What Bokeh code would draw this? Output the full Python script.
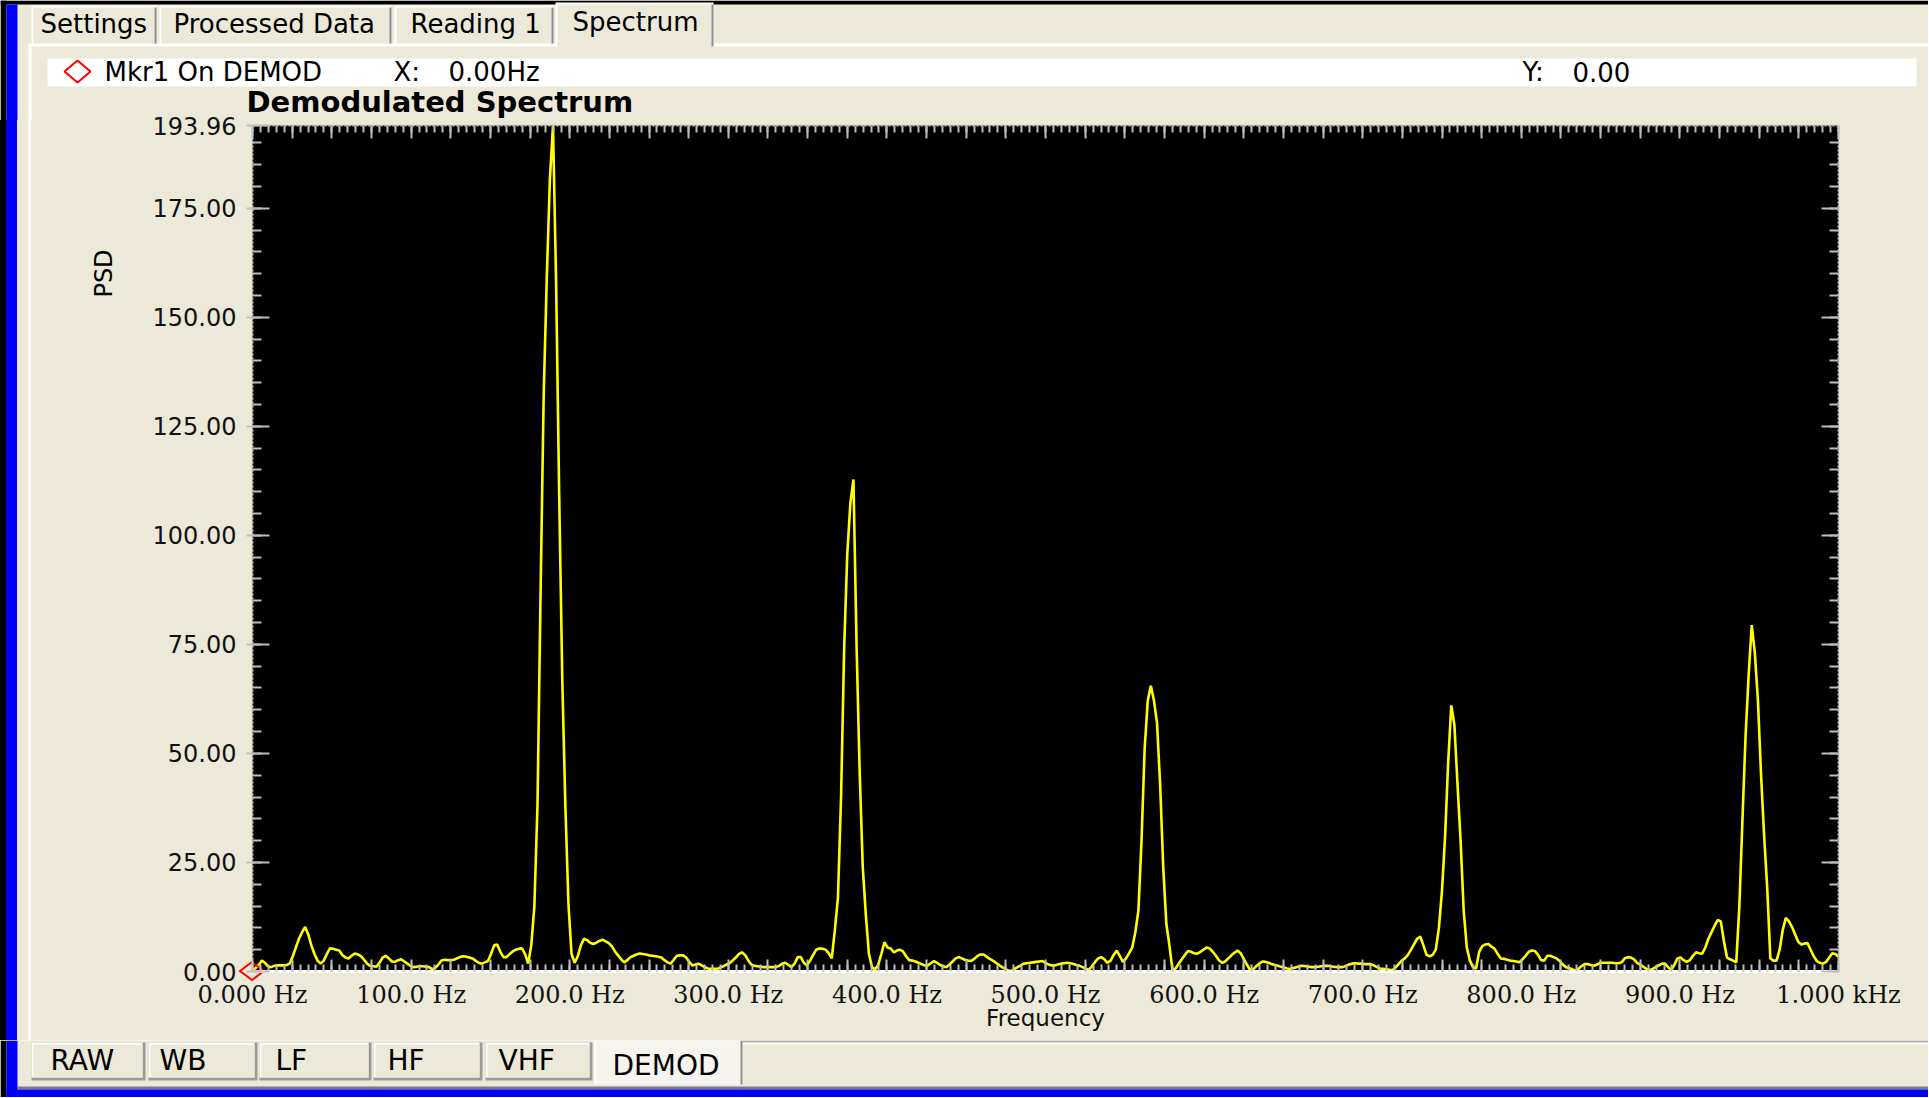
from bokeh.plotting import figure
from bokeh.layouts import column, row
from bokeh.core.properties import value
from bokeh.models import (Range1d, FixedTicker, LinearAxis, NumeralTickFormatter,
                          CustomJSTickFormatter)
from bokeh.embed import file_html
from bokeh.resources import INLINE

# ---------------- data ----------------
FREQ_STEP_HZ = 1000.0 / 512.0          # spectrum bin width
psd_values = [
    0.3, 0.8, 1.5, 2.5, 2.0, 1.2, 1.0, 1.3, 1.4, 1.4,
    1.4, 1.5, 1.8, 3.5, 5.5, 7.5, 9.0, 10.2, 8.5, 6.0,
    4.0, 2.5, 1.8, 2.5, 4.0, 5.3, 5.2, 5.0, 4.8, 3.8,
    3.2, 3.0, 3.6, 4.1, 3.9, 3.5, 2.7, 1.8, 1.3, 1.2,
    1.1, 2.0, 3.2, 3.6, 3.0, 2.3, 2.2, 2.6, 2.8, 2.3,
    1.8, 1.3, 1.0, 1.1, 1.2, 1.2, 1.1, 1.0, 0.5, 0.8,
    1.6, 2.5, 2.7, 2.6, 2.6, 2.7, 3.0, 3.3, 3.5, 3.4,
    3.2, 3.0, 2.5, 2.0, 1.8, 2.1, 2.4, 4.0, 6.0, 6.2,
    4.5, 3.3, 3.3, 4.0, 4.6, 5.0, 5.2, 5.3, 4.0, 1.8,
    6.0, 15.0, 38.0, 87.0, 132.0, 159.0, 181.5, 193.96, 158.5, 109.5,
    67.0, 38.0, 15.4, 4.0, 2.0, 3.5, 6.0, 7.5, 7.2, 6.6,
    6.3, 6.6, 7.0, 7.3, 6.9, 6.5, 5.8, 4.6, 3.7, 2.8,
    2.1, 2.6, 3.3, 3.6, 3.9, 4.1, 4.0, 3.9, 3.7, 3.6,
    3.5, 3.4, 3.2, 2.6, 2.1, 1.8, 2.7, 3.6, 3.7, 3.7,
    3.2, 2.2, 1.4, 1.6, 1.8, 1.4, 1.0, 0.7, 0.6, 0.6,
    0.6, 0.9, 1.2, 1.6, 1.9, 2.5, 3.2, 4.0, 4.4, 3.8,
    2.6, 1.6, 1.3, 1.2, 1.1, 1.0, 1.0, 1.0, 1.0, 1.0,
    1.3, 1.8, 2.0, 1.5, 1.0, 1.8, 3.3, 3.3, 2.0, 1.4,
    2.5, 3.8, 5.0, 5.3, 5.2, 5.0, 4.2, 3.0, 9.5, 17.0,
    40.0, 74.0, 95.6, 107.3, 112.8, 75.0, 46.0, 24.0, 13.0, 4.0,
    1.0, 0.5, 1.5, 4.0, 6.7, 5.5, 5.3, 4.4, 4.8, 5.0,
    4.6, 3.5, 2.6, 2.5, 2.3, 2.0, 1.7, 1.4, 1.4, 1.9,
    2.4, 2.0, 1.5, 1.2, 1.0, 1.6, 2.3, 3.0, 3.3, 3.0,
    2.7, 2.5, 2.4, 2.9, 3.5, 3.9, 3.9, 3.4, 2.9, 2.5,
    2.0, 1.5, 1.0, 0.6, 0.2, 0.1, 0.6, 1.0, 1.4, 1.8,
    1.9, 2.0, 2.1, 2.2, 2.3, 2.4, 2.0, 1.6, 1.4, 1.4,
    1.6, 1.8, 1.9, 2.0, 1.9, 1.7, 1.5, 1.3, 1.0, 0.6,
    0.4, 1.2, 2.2, 3.0, 3.3, 2.8, 2.0, 2.5, 3.8, 4.8,
    3.5, 2.2, 3.0, 4.2, 5.5, 9.0, 14.0, 30.0, 51.0, 62.0,
    65.5, 62.2, 57.0, 43.0, 24.0, 11.0, 6.0, 0.3, 0.7, 1.8,
    2.8, 3.8, 4.7, 4.5, 4.2, 4.1, 4.5, 5.0, 5.5, 5.3,
    4.5, 3.6, 2.6, 2.0, 2.3, 3.0, 3.7, 4.3, 4.8, 4.2,
    2.9, 1.6, 0.4, 0.5, 1.2, 1.8, 2.3, 2.2, 2.0, 1.7,
    1.5, 1.3, 1.1, 0.9, 0.7, 0.6, 0.8, 1.0, 1.2, 1.3,
    1.2, 1.1, 1.0, 1.0, 1.1, 1.2, 1.3, 1.3, 1.2, 1.1,
    1.0, 1.0, 1.0, 1.3, 1.6, 1.8, 1.9, 1.8, 1.8, 1.7,
    1.7, 1.7, 1.4, 1.0, 0.7, 0.6, 0.5, 0.4, 0.3, 0.9,
    1.7, 2.5, 3.0, 3.8, 5.0, 6.3, 7.5, 8.0, 6.0, 3.8,
    3.5, 3.8, 5.0, 10.0, 18.6, 31.0, 48.0, 61.0, 56.5, 43.0,
    30.0, 14.0, 5.5, 2.5, 1.0, 0.7, 4.5, 5.8, 6.2, 6.3,
    5.7, 5.2, 4.0, 3.0, 2.9, 2.7, 2.5, 2.4, 2.3, 2.1,
    2.8, 3.6, 4.5, 4.8, 4.7, 3.8, 2.6, 2.5, 3.6, 3.6,
    3.3, 3.0, 2.4, 1.6, 1.0, 0.8, 0.5, 0.2, 0.6, 1.2,
    1.7, 1.7, 1.5, 1.3, 1.6, 2.0, 2.0, 2.0, 2.0, 2.0,
    1.9, 1.9, 2.1, 3.0, 3.3, 3.2, 2.8, 2.0, 1.6, 1.1,
    0.6, 0.3, 0.6, 1.0, 1.4, 1.8, 1.8, 1.0, 0.3, 1.5,
    3.0, 3.2, 2.6, 2.2, 2.6, 3.6, 4.4, 4.2, 4.1, 5.5,
    7.5, 9.0, 10.5, 11.8, 11.5, 7.0, 3.2, 2.8, 2.5, 2.1,
    15.0, 35.0, 54.0, 68.0, 79.4, 73.0, 62.0, 45.0, 31.0, 19.0,
    3.0, 2.5, 2.5, 5.0, 9.5, 12.3, 11.5, 10.2, 8.5, 6.8,
    6.2, 6.4, 6.5, 5.0, 3.5, 2.4, 2.0, 1.8, 2.2, 3.2,
    4.2, 4.0, 3.4,
]
freq_hz = [i * FREQ_STEP_HZ for i in range(len(psd_values))]

x_tick_values = [0, 100, 200, 300, 400, 500, 600, 700, 800, 900, 1000]
x_tick_labels = ["0.000 Hz", "100.0 Hz", "200.0 Hz", "300.0 Hz", "400.0 Hz", "500.0 Hz",
                 "600.0 Hz", "700.0 Hz", "800.0 Hz", "900.0 Hz", "1.000 kHz"]
y_tick_values = [0, 25, 50, 75, 100, 125, 150, 175, 193.96]
Y_MAX = 193.96
X_MAX = 1000

title_text = "Demodulated Spectrum"
x_title = "Frequency"
y_title = "PSD"
top_tabs = ["Settings", "Processed Data", "Reading 1", "Spectrum"]
bottom_tabs = ["RAW", "WB", "LF", "HF", "VHF", "DEMOD"]
marker_name = "Mkr1 On DEMOD"
marker_x_text = "0.00Hz"
marker_y_text = "0.00"
marker_freq = 0.0
marker_psd = 0.0

# ---------------- layout (page pixel coordinates) ----------------
TOTAL_W, TOTAL_H = 1928, 1097
TOP_H = 120          # header strip: page y 0..120 (tabs, marker bar, title)
CHART_TOP = 110      # chart canvas starts here (overlapping the header's last rows)
BOT_Y = 1040         # bottom strip: page y 1040..TOTAL_H
FRAME_L, FRAME_R, FRAME_T, FRAME_B = 252, 1838, 125, 971
PSD_CENTER_Y = 273
BEIGE = "#ECE9D8"
TICK = "#BDBDBD"
UI_FONT = "DejaVu Sans"


def canvas_fig(x0, y0, w, h):
    f = figure(width=w, height=h, x_range=Range1d(x0, x0 + w), y_range=Range1d(y0 + h, y0),
               output_backend="svg", toolbar_location=None, title=None,
               x_axis_type=None, y_axis_type=None, min_border=0,
               background_fill_color=BEIGE, border_fill_color=BEIGE)
    f.outline_line_color = None
    return f


class Sketch:
    def __init__(self, fig):
        self.f = fig
        self.q = dict(left=[], right=[], top=[], bottom=[], color=[])

    def rect(self, l, t, r, b, color):
        self.q["left"].append(l)
        self.q["right"].append(r)
        self.q["top"].append(t)
        self.q["bottom"].append(b)
        self.q["color"].append(color)

    def flush(self):
        q = self.q
        self.f.quad(left=q["left"], right=q["right"], top=q["top"], bottom=q["bottom"],
                    fill_color=q["color"], line_color=None)

    def text(self, s, x, y, size, align="left", style="normal", font=UI_FONT, color="#000000"):
        self.f.text(x=[x], y=[y], text=[s], text_font=value(font),
                    text_font_size=value(f"{size}px"), text_font_style=value(style),
                    text_align=value(align), text_baseline=value("middle"),
                    text_color=color)


# ---------- header: tabs, marker bar, chart title ----------
top_fig = canvas_fig(0, 0, TOTAL_W, TOP_H)
top = Sketch(top_fig)
top.rect(0, 0, TOTAL_W, 4, "#000000")
top.rect(0, 0, 6, TOP_H, "#000000")
top.rect(6, 4, 17, TOP_H, "#0000FF")
top.rect(28, 43, TOTAL_W, 46, "#FFFFFF")
top.rect(28, 43, 31, TOP_H, "#FFFFFF")
top_l = [31, 159, 394, 555]
top_r = [156, 391, 553, 713]
top_text_x = [40, 173, 410, 572]
for i in range(len(top_tabs)):
    if i == len(top_tabs) - 1:
        top.rect(top_l[i], 2, top_r[i], 46, "#FFFFFF")
        top.rect(top_l[i] + 2, 4, top_r[i] - 2, 47, BEIGE)
        top.rect(top_r[i] - 2, 4, top_r[i], 46, "#8C8C8C")
    else:
        top.rect(top_l[i], 5, top_r[i], 43, "#FFFFFF")
        top.rect(top_l[i] + 2, 7, top_r[i] - 2, 43, BEIGE)
        top.rect(top_r[i] - 2, 7, top_r[i], 43, "#8C8C8C")
top.rect(47, 58, 1916, 86, "#FFFFFF")
top.flush()
for i, name in enumerate(top_tabs):
    top.text(name, top_text_x[i], 21 if i == len(top_tabs) - 1 else 23, 26)
top_fig.patch([64, 77, 90, 77], [71, 60, 71, 82], fill_color=None,
              line_color="#FF0000", line_width=2)
top.text(marker_name, 104, 71, 26)
top.text("X:", 393, 71, 26)
top.text(marker_x_text, 448, 71, 26)
top.text("Y:", 1522, 71, 26)
top.text(marker_y_text, 1572, 71, 26)
top.text(title_text, 246, 101.5, 29, style="bold")

# ---------- bottom strip: view tabs ----------
bot_fig = canvas_fig(0, BOT_Y, TOTAL_W, TOTAL_H - BOT_Y)
bot = Sketch(bot_fig)
bot.rect(0, BOT_Y, 6, TOTAL_H, "#000000")
bot.rect(6, BOT_Y, 17, TOTAL_H, "#0000FF")
bot.rect(742, 1040, TOTAL_W, 1042, "#A0A0A0")
bot.rect(742, 1042, TOTAL_W, 1044, "#FFFFFF")
bot_l = [31, 148, 259, 373, 485, 594]
bot_r = [145, 257, 371, 482, 592, 742]
bot_text_x = [50, 159, 275, 387, 498, 612]
for i in range(len(bottom_tabs)):
    if i == len(bottom_tabs) - 1:
        bot.rect(bot_l[i], 1040, bot_r[i], 1084, "#FFFFFF")
        bot.rect(bot_l[i] + 2, 1040, bot_r[i] - 2, 1084, "#F5F4EE")
        bot.rect(bot_r[i] - 2, 1040, bot_r[i], 1084, "#8C8C8C")
    else:
        bot.rect(bot_l[i], 1042, bot_r[i], 1080, "#9A9A9A")
        bot.rect(bot_l[i], 1042, bot_r[i] - 3, 1077, "#FFFFFF")
        bot.rect(bot_l[i] + 2, 1044, bot_r[i] - 3, 1077, BEIGE)
bot.rect(17, 1086, TOTAL_W, 1089, "#7A7A8A")
bot.rect(6, 1089, TOTAL_W, TOTAL_H, "#0000FF")
bot.flush()
for i, name in enumerate(bottom_tabs):
    bot.text(name, bot_text_x[i], 1065 if i == len(bottom_tabs) - 1 else 1060, 28)

# ---------- chart ----------
CH_W = TOTAL_W
CH_H = BOT_Y - CHART_TOP
OVERLAP = TOP_H - CHART_TOP
px_per_hz = (FRAME_R - FRAME_L) / X_MAX
px_per_unit = (FRAME_B - FRAME_T) / Y_MAX

# marker diamond outline (the half below the frame shows through the border)
DIA_W, DIA_H = 28, 22
dia_cx = FRAME_L + marker_freq * px_per_hz
dia_cy = FRAME_B - marker_psd * px_per_unit - CHART_TOP
diamond_img = ("url(\"data:image/svg+xml,%3Csvg xmlns='http://www.w3.org/2000/svg' "
               f"width='{DIA_W}' height='{DIA_H}'%3E%3Cpolygon points='2,11 14,2 26,11 14,20' "
               "fill='none' stroke='%23FF0000' stroke-width='2'/%3E%3C/svg%3E\")")
diamond_layer = (f"{diamond_img} {dia_cx - DIA_W / 2:.0f}px {dia_cy - DIA_H / 2:.0f}px / "
                 f"{DIA_W}px {DIA_H}px no-repeat")
side_strip = ("linear-gradient(to right, #000000 0px, #000000 6px, #0000FF 6px, #0000FF 17px, "
              "#ECE9D8 17px, #ECE9D8 28px, #FFFFFF 28px, #FFFFFF 31px, #ECE9D8 31px, #ECE9D8 100%)")
chart_bg = (f"{diamond_layer}, "
            f"{side_strip} 0px {OVERLAP}px / 100% {CH_H - OVERLAP}px no-repeat")
p = figure(width=CH_W, height=CH_H, x_range=Range1d(0, X_MAX), y_range=Range1d(0, Y_MAX),
           output_backend="svg", toolbar_location=None, title=None,
           x_axis_type=None, y_axis_type=None,
           min_border_left=FRAME_L, min_border_right=CH_W - FRAME_R,
           min_border_top=FRAME_T - CHART_TOP, min_border_bottom=CH_H - (FRAME_B - CHART_TOP),
           background_fill_color="black", border_fill_color=None,
           styles={"background": chart_bg})
p.outline_line_color = None

p.line(freq_hz, psd_values, line_color="#FFFF00", line_width=2.6)

ddx, ddy = 12 / px_per_hz, 9 / px_per_unit
p.patch([marker_freq - ddx, marker_freq, marker_freq + ddx, marker_freq],
        [marker_psd, marker_psd + ddy, marker_psd, marker_psd - ddy],
        fill_color=None, line_color="#FF0000", line_width=2)

x_major = list(range(0, X_MAX + 1, 25))
x_minor = list(range(0, X_MAX + 1, 5))
y_minor = list(range(0, 195, 5))
y_major_plain = [v for v in y_tick_values if v != Y_MAX]

xfmt = CustomJSTickFormatter(args=dict(vals=x_tick_values, labs=x_tick_labels),
                             code="const i = vals.indexOf(tick); return i >= 0 ? labs[i] : '';")
blank = CustomJSTickFormatter(code="return '';")


def style(ax, major_in, major_out, minor_in, line_color, line_width, dash="solid"):
    ax.major_tick_in = major_in
    ax.major_tick_out = major_out
    ax.minor_tick_in = minor_in
    ax.minor_tick_out = 0
    ax.major_tick_line_color = TICK
    ax.major_tick_line_width = 2
    ax.minor_tick_line_color = TICK
    ax.minor_tick_line_width = 2
    ax.axis_line_color = line_color
    ax.axis_line_width = line_width
    ax.axis_line_dash = dash


def caption_axis(text, at, size, style_name, standoff, orientation="horizontal"):
    """An axis with no rule and no ticks whose single label is a caption at `at`."""
    ax = LinearAxis(ticker=FixedTicker(ticks=[at]),
                    formatter=CustomJSTickFormatter(args=dict(t=text), code="return t;"))
    ax.axis_line_color = None
    ax.major_tick_line_color = None
    ax.minor_tick_line_color = None
    ax.major_tick_in = 0
    ax.major_tick_out = 0
    ax.minor_tick_in = 0
    ax.minor_tick_out = 0
    ax.major_label_standoff = standoff
    ax.major_label_orientation = orientation
    ax.major_label_text_font = UI_FONT
    ax.major_label_text_font_size = f"{size}px"
    ax.major_label_text_font_style = style_name
    ax.major_label_text_color = "#000000"
    return ax


xb = LinearAxis(ticker=FixedTicker(ticks=x_major, minor_ticks=x_minor), formatter=xfmt)
style(xb, 12, 0, 7, "#FFFFFF", 3)
xb.major_label_text_font = "DejaVu Serif"
xb.major_label_text_font_size = "24px"
xb.major_label_text_color = "#111111"
xb.major_label_standoff = 9
xb.axis_label = x_title
xb.axis_label_text_font = UI_FONT
xb.axis_label_text_font_size = "23px"
xb.axis_label_text_font_style = "normal"
xb.axis_label_text_color = "#111111"
xb.axis_label_standoff = -7
p.add_layout(xb, "below")

xt = LinearAxis(ticker=FixedTicker(ticks=x_major, minor_ticks=x_minor), formatter=blank)
style(xt, 13, 0, 7, "#C8C8C8", 2, "2 2")
xt.major_label_text_color = None
xt.major_label_text_font_size = "1px"
xt.major_label_standoff = 0
p.add_layout(xt, "above")

yl = LinearAxis(ticker=FixedTicker(ticks=y_tick_values, minor_ticks=y_minor),
                formatter=NumeralTickFormatter(format="0.00"))
style(yl, 17, 6, 9, "#C8C8C8", 2, "2 2")
yl.major_label_text_font = UI_FONT
yl.major_label_text_font_size = "24px"
yl.major_label_text_color = "#111111"
yl.major_label_standoff = 10
p.add_layout(yl, "left")

# y title placed high on the left side, as on the instrument display
p.add_layout(caption_axis(y_title, (FRAME_B - PSD_CENTER_Y) / px_per_unit, 24, "normal", 32,
                          orientation="vertical"), "left")

yr = LinearAxis(ticker=FixedTicker(ticks=y_major_plain, minor_ticks=y_minor), formatter=blank)
style(yr, 17, 0, 9, "#C8C8C8", 2, "2 2")
yr.major_label_text_color = None
yr.major_label_text_font_size = "1px"
yr.major_label_standoff = 0
p.add_layout(yr, "right")

chart_row = row(p, spacing=0, margin=(-OVERLAP, 0, 0, 0))
layout = column(top_fig, chart_row, bot_fig, spacing=0)
open("out.html", "w").write(file_html(layout, INLINE))
